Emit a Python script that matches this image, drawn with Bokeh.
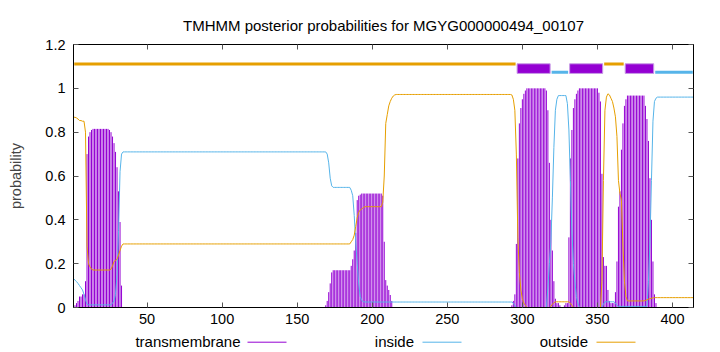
from bokeh.plotting import figure
from bokeh.layouts import column
from bokeh.models import (Range1d, LinearAxis, FixedTicker, CustomJSTickFormatter,
                          ColumnDataSource)
from bokeh.core.properties import value
from bokeh.embed import file_html
from bokeh.resources import INLINE

FONT = "Liberation Sans"

title_text = "TMHMM posterior probabilities for MGYG000000494_00107"
y_label = "probability"

residues = list(range(1, 415))

tm = ([0.00, 0.01, 0.02, 0.03, 0.05, 0.05, 0.06, 0.06, 0.12]
      + [0.70, 0.78, 0.80, 0.81] + [0.815] * 11
      + [0.81, 0.80, 0.78, 0.75, 0.71, 0.64, 0.53, 0.39, 0.10]
      + [0.0] * 135
      + [0.01, 0.03, 0.07, 0.11, 0.16] + [0.17] * 12
      + [0.19, 0.22, 0.26, 0.34, 0.49, 0.51, 0.515] + [0.52] * 14
      + [0.51, 0.30, 0.125, 0.10, 0.08, 0.057, 0.03]
      + [0.0] * 79
      + [0.01, 0.03, 0.06, 0.29, 0.68, 0.84, 0.91, 0.95, 0.975, 0.99]
      + [1.0] * 13
      + [0.99, 0.90, 0.66, 0.40, 0.26, 0.12, 0.04, 0.02, 0.02, 0.01]
      + [0.0, 0.0, 0.01, 0.02, 0.02]
      + [0.32, 0.68, 0.81, 0.91, 0.95, 0.975, 0.99]
      + [1.0] * 13
      + [0.98, 0.94, 0.61, 0.23, 0.19, 0.19, 0.08, 0.03, 0.02, 0.02, 0.02,
         0.07, 0.21, 0.46, 0.53, 0.72, 0.84, 0.92, 0.95]
      + [0.967] * 12
      + [0.92, 0.86, 0.76, 0.59, 0.40, 0.21, 0.06, 0.02]
      + [0.0] * 25)

inside = ([0.132, 0.125, 0.118, 0.11, 0.10, 0.09, 0.08, 0.06, 0.035, 0.015, 0.012]
          + [0.012] * 15
          + [0.02, 0.03, 0.06, 0.15, 0.35, 0.62, 0.70, 0.71]
          + [0.71] * 135
          + [0.70, 0.66, 0.59, 0.555]
          + [0.548] * 12
          + [0.535, 0.51, 0.42, 0.30, 0.20, 0.107, 0.05, 0.032, 0.027]
          + [0.025] * 99
          + [0.02, 0.01]
          + [0.0] * 21
          + [0.09, 0.2, 0.3, 0.5, 0.73, 0.9, 0.95]
          + [0.967] * 6
          + [0.93, 0.81, 0.58, 0.35, 0.2, 0.12, 0.05, 0.02]
          + [0.0] * 16
          + [0.015] + [0.026] * 7 + [0.02, 0.01]
          + [0.005] * 20
          + [0.12, 0.3, 0.58, 0.85, 0.94, 0.955]
          + [0.96] * 25)

outside = ([0.868, 0.868, 0.865, 0.86, 0.853, 0.853, 0.85, 0.85, 0.80, 0.28, 0.20, 0.185, 0.175]
           + [0.171] * 12
           + [0.175, 0.19, 0.21, 0.215, 0.22, 0.24, 0.26, 0.28, 0.29]
           + [0.29] * 151
           + [0.30, 0.31, 0.33, 0.37, 0.41, 0.434, 0.445, 0.45, 0.455]
           + [0.46] * 12
           + [0.48, 0.60, 0.84, 0.88, 0.92, 0.94, 0.955, 0.965, 0.97]
           + [0.972] * 77
           + [0.97, 0.95, 0.90, 0.70, 0.32, 0.16, 0.08, 0.04, 0.02, 0.01]
           + [0.0] * 16
           + [0.005, 0.015, 0.022]
           + [0.026] * 10
           + [0.02, 0.01]
           + [0.0] * 19
           + [0.12, 0.58, 0.90, 0.96, 0.975, 0.97, 0.955, 0.94, 0.91, 0.87, 0.78,
              0.58, 0.52, 0.49, 0.28, 0.12, 0.05]
           + [0.03] * 12
           + [0.032, 0.035, 0.038, 0.04, 0.042, 0.044]
           + [0.045] * 27)

topo_type = ["outside", "TMhelix", "inside", "TMhelix", "outside", "TMhelix", "inside"]
topo_start = [1, 297, 319, 332, 354, 369, 388]
topo_end = [296, 318, 331, 353, 368, 387, 414]

x_ticks = [50, 100, 150, 200, 250, 300, 350, 400]
y_ticks = [0, 0.2, 0.4, 0.6, 0.8, 1, 1.2]
legend_labels = ["transmembrane", "inside", "outside"]

n = min(len(residues), len(tm), len(inside), len(outside))
residues, tm, inside, outside = residues[:n], tm[:n], inside[:n], outside[:n]

COL = {"TMhelix": "#9400d3", "inside": "#56b4e9", "outside": "#e69f00"}

p = figure(width=720, height=332, output_backend="svg", toolbar_location=None,
           x_range=Range1d(1, 414), y_range=Range1d(0, 1.2),
           min_border_left=73, min_border_right=27, min_border_top=44, min_border_bottom=25)
p.background_fill_color = "white"
p.border_fill_color = "white"
p.outline_line_color = "black"
p.xgrid.visible = False
p.ygrid.visible = False

p.title.text = title_text
p.title.align = "center"
p.title.text_font = FONT
p.title.text_font_size = "15px"
p.title.text_font_style = "normal"
p.title.text_color = "black"
p.title.standoff = 21

src = ColumnDataSource(dict(r=residues, tm=tm, inside=inside, outside=outside))
p.segment(x0="r", y0=0, x1="r", y1="tm", source=src, line_color=COL["TMhelix"], line_width=1)
p.line("r", "inside", source=src, line_color=COL["inside"], line_width=1)
p.line("r", "outside", source=src, line_color=COL["outside"], line_width=1)

# topology band
tm_l, tm_r = [], []
ln = {"inside": ([], []), "outside": ([], [])}
for t, s, e in zip(topo_type, topo_start, topo_end):
    if t == "TMhelix":
        tm_l.append(s - 0.5)
        tm_r.append(e + 0.5)
    else:
        ln[t][0].append(max(s + 0.5, 1))
        ln[t][1].append(e - 0.5)
p.quad(left=tm_l, right=tm_r, bottom=1.068, top=1.112, fill_color=COL["TMhelix"],
       line_color="#c79be6", line_width=1)
p.segment(x0=ln["outside"][0], y0=1.111, x1=ln["outside"][1], y1=1.111,
          line_color=COL["outside"], line_width=3)
p.segment(x0=ln["inside"][0], y0=1.073, x1=ln["inside"][1], y1=1.073,
          line_color=COL["inside"], line_width=3)

# axes
def style_axis(ax):
    ax.major_tick_in = 5
    ax.major_tick_out = 0
    ax.minor_tick_line_color = None
    ax.axis_line_color = "black"
    ax.major_tick_line_color = "#555555"
    ax.major_label_text_font = FONT
    ax.major_label_text_font_size = "14.5px"
    ax.major_label_text_color = "black"

xa = p.xaxis[0]
xa.ticker = FixedTicker(ticks=x_ticks)
style_axis(xa)
xa.major_label_standoff = 6

ya = p.yaxis[0]
ya.ticker = FixedTicker(ticks=y_ticks)
ya.formatter = CustomJSTickFormatter(code="return tick.toString();")
style_axis(ya)
ya.major_label_standoff = 8
ya.axis_label = y_label
ya.axis_label_text_font = FONT
ya.axis_label_text_font_size = "14.5px"
ya.axis_label_text_font_style = "normal"
ya.axis_label_standoff = 18

top = LinearAxis(ticker=FixedTicker(ticks=x_ticks), formatter=CustomJSTickFormatter(code="return '';"))
style_axis(top)
p.add_layout(top, "above")
right = LinearAxis(ticker=FixedTicker(ticks=y_ticks), formatter=CustomJSTickFormatter(code="return '';"))
style_axis(right)
p.add_layout(right, "right")

# legend strip below (label right-aligned, then line sample), gnuplot style
# its frame is aligned with the main frame (73..693), so x range = canvas px
leg = figure(width=720, height=20, output_backend="svg", toolbar_location=None,
             x_range=Range1d(73, 693), y_range=Range1d(20, 0),
             x_axis_type=None, y_axis_type=None,
             min_border_left=0, min_border_right=0, min_border_top=0, min_border_bottom=0)
leg.outline_line_color = None
leg.xgrid.visible = False
leg.ygrid.visible = False
leg.background_fill_color = "white"
leg.border_fill_color = "white"
text_right = [240, 413.5, 587.5]
sample_left = [247, 422, 596]
sample_right = [286, 461, 635]
leg_cols = [COL["TMhelix"], COL["inside"], COL["outside"]]
leg.text(x=text_right, y=[9.3] * 3, text=legend_labels, text_align="right",
         text_baseline="middle", text_font=value(FONT), text_font_size="15px",
         text_color="black")
leg.segment(x0=sample_left, y0=[9.7] * 3, x1=sample_right, y1=[9.7] * 3,
            line_color=leg_cols, line_width=1)

layout = column(p, leg, spacing=0)
open("out.html", "w").write(file_html(layout, INLINE))
